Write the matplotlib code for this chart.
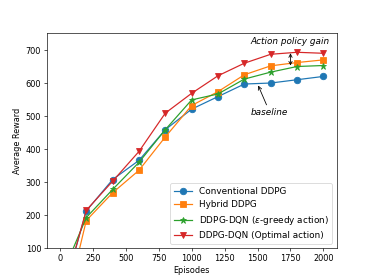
import matplotlib
matplotlib.use("Agg")
import matplotlib.pyplot as plt
import numpy as np

episodes = [0, 200, 400, 600, 800, 1000, 1200, 1400, 1600, 1800, 2000]

conventional = [-70, 213, 308, 366, 459, 521, 559, 597, 600, 610, 620]
hybrid = [-150, 184, 268, 336, 437, 532, 574, 625, 652, 662, 670]
eps_greedy = [5, 193, 278, 360, 459, 549, 567, 612, 633, 650, 653]
optimal = [-70, 215, 303, 393, 509, 569, 622, 660, 687, 693, 690]

fig = plt.figure(figsize=(6.4, 4.775), dpi=58.4375)
ax = fig.add_subplot(111)

ax.plot(episodes, conventional, marker='o', markersize=8, label='Conventional DDPG')
ax.plot(episodes, hybrid, marker='s', markersize=8, label='Hybrid DDPG')
ax.plot(episodes, eps_greedy, marker='*', markersize=8, label=r'DDPG-DQN ($\epsilon$-greedy action)')
ax.plot(episodes, optimal, marker='v', markersize=8, label='DDPG-DQN (Optimal action)')

# gain arrow between the eps-greedy and optimal curves
ax.annotate('', xy=(1750, 695), xytext=(1750, 648),
            arrowprops=dict(arrowstyle='<->', color='black', lw=1))
ax.text(1744, 725, 'Action policy gain', style='italic', ha='center', va='center', fontsize=11)

ax.annotate('baseline', xy=(1500, 597), xytext=(1593, 511), style='italic',
            ha='center', va='center', fontsize=11,
            arrowprops=dict(arrowstyle='->', color='black', lw=1))

ax.set_ylim(100, 750)
ax.set_xlabel('Episodes')
ax.set_ylabel('Average Reward')
ax.legend(loc='lower right', fontsize=11)

fig.savefig('out.png', dpi=58.4375)
